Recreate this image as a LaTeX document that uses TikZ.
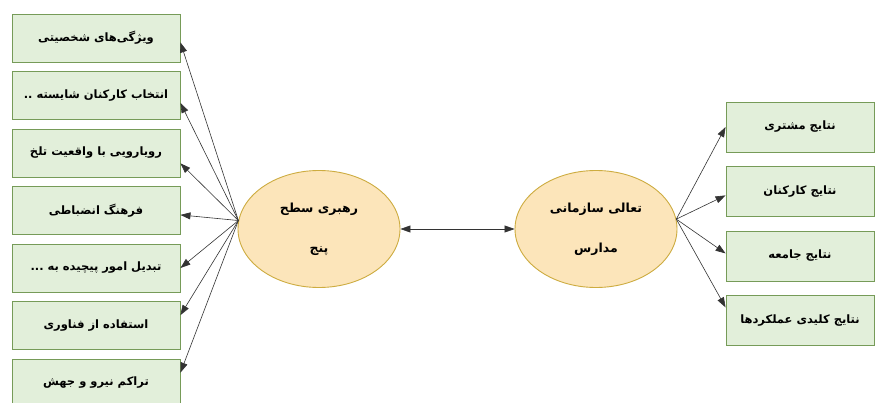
\documentclass[tikz,border=0pt]{standalone}
\usepackage{fontspec}
\usetikzlibrary{arrows.meta,shapes.geometric}
\TeXXeTstate=1
\newfontfamily\farsi[Script=Arabic]{DejaVu Sans}
\definecolor{boxfill}{RGB}{226,239,218}
\definecolor{boxline}{RGB}{118,155,88}
\definecolor{ovalfill}{RGB}{252,229,186}
\definecolor{ovalline}{RGB}{205,172,64}
\newcommand{\rtltext}[1]{\beginR #1\endR}

\begin{document}
\begin{tikzpicture}[x=1pt,y=-1pt,
	factor/.style={draw=boxline, fill=boxfill, line width=0.9pt, minimum width=168pt, minimum height=48pt, inner sep=0pt, font=\farsi\bfseries\fontsize{11.5}{13}\selectfont},
	result/.style={factor, minimum width=148pt, minimum height=50pt},
	oval/.style={ellipse, draw=ovalline, fill=ovalfill, line width=0.9pt, minimum width=162pt, minimum height=117pt, inner sep=0pt, align=center, font=\farsi\bfseries\fontsize{12.5}{14}\selectfont},
	link/.style={-{Triangle[length=10pt,width=7pt]}, draw=black!80, line width=0.6pt}]

	\useasboundingbox (0,0) rectangle (877,403);
	\clip (0,0) rectangle (877,403);
	\fill[white] (0,0) rectangle (877,403);

	% left column
	\node[factor] (b1) at (96,38) {\rtltext{ویژگی^^^^200cهای شخصیتی}};
	\node[factor] (b2) at (96,95.5) {\rtltext{انتخاب کارکنان شایسته ..}};
	\node[factor] (b3) at (96,153) {\rtltext{رویارویی با واقعیت تلخ}};
	\node[factor] (b4) at (96,210.5) {\rtltext{فرهنگ انضباطی}};
	\node[factor] (b5) at (96,268) {\rtltext{تبدیل امور پیچیده به ...}};
	\node[factor] (b6) at (96,325.5) {\rtltext{استفاده از فناوری}};
	\node[factor] (b7) at (96,383) {\rtltext{تراکم نیرو و جهش}};

	% ovals
	\node[oval] (lead) at (319,229) {\rtltext{رهبری سطح}\\[26pt]\rtltext{پنج}};
	\node[oval] (exc) at (596,229) {\rtltext{تعالی سازمانی}\\[26pt]\rtltext{مدارس}};

	% right column
	\node[result] (r1) at (800,127) {\rtltext{نتایج مشتری}};
	\node[result] (r2) at (800,191.5) {\rtltext{نتایج کارکنان}};
	\node[result] (r3) at (800,256) {\rtltext{نتایج جامعه}};
	\node[result] (r4) at (800,320.5) {\rtltext{نتایج کلیدی عملکردها}};

	\draw[link] (lead.174) -- (b1.-3);
	\draw[link] (lead.174) -- (b2.-5);
	\draw[link] (lead.174) -- (b3.-7);
	\draw[link] (lead.174) -- (b4.-3);
	\draw[link] (lead.174) -- (b5.east);
	\draw[link] (lead.174) -- (b6.7);
	\draw[link] (lead.174) -- (b7.7);

	\draw[link, {Triangle[length=10pt,width=7pt]}-{Triangle[length=10pt,width=7pt]}] (lead.east) -- (exc.west);

	\draw[link] (exc.7) -- (r1.west);
	\draw[link] (exc.7) -- (r2.183);
	\draw[link] (exc.7) -- (r3.178);
	\draw[link] (exc.7) -- (r4.170);

\end{tikzpicture}
\end{document}
